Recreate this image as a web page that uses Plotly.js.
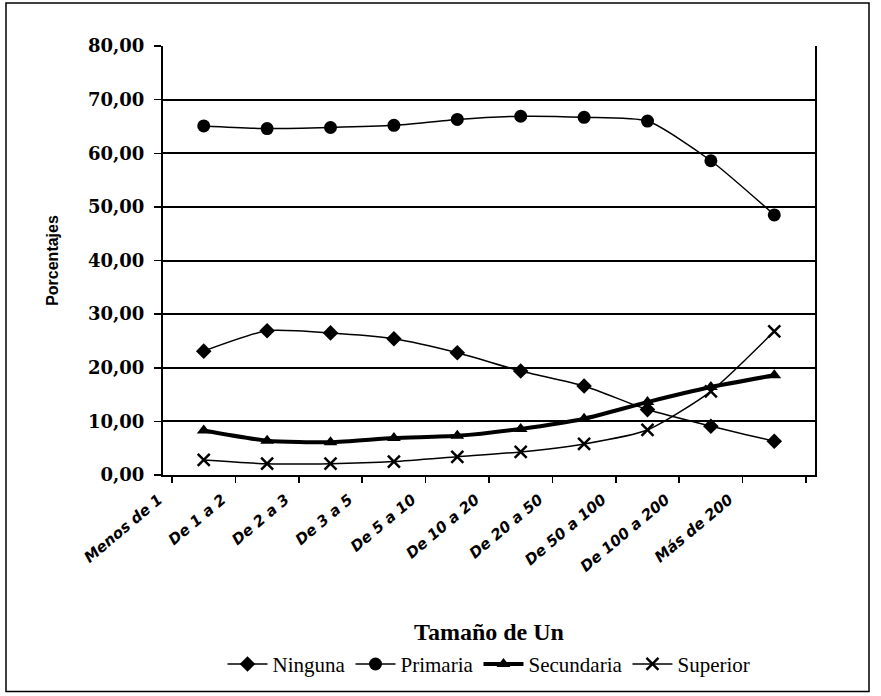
<!DOCTYPE html>
<html>
<head>
<meta charset="utf-8">
<script src="https://cdn.plot.ly/plotly-3.0.1.min.js"></script>
<style>html,body{margin:0;padding:0;background:#fff;}#chart{width:881px;height:696px;}</style>
</head>
<body>
<div id="chart"></div>
<script>
const categorias = ['Menos de 1','De 1 a 2','De 2 a 3','De 3 a 5','De 5 a 10','De 10 a 20','De 20 a 50','De 50 a 100','De 100 a 200','Más de 200'];
const ninguna    = [23.1, 26.9, 26.5, 25.4, 22.8, 19.4, 16.6, 12.2, 9.1, 6.3];
const primaria   = [65.1, 64.6, 64.8, 65.2, 66.3, 66.9, 66.7, 66.0, 58.6, 48.5];
const secundaria = [8.3, 6.4, 6.1, 6.9, 7.3, 8.6, 10.5, 13.6, 16.4, 18.6];
const superior   = [2.8, 2.1, 2.1, 2.5, 3.4, 4.3, 5.8, 8.4, 15.6, 26.8];
const yTicks = [0,10,20,30,40,50,60,70,80];
const yTickText = ['0,00','10,00','20,00','30,00','40,00','50,00','60,00','70,00','80,00'];

const traces = [
  {name:'Ninguna', x:categorias, y:ninguna, mode:'lines+markers',
   line:{color:'#000', width:1.5, shape:'spline', smoothing:0.6},
   marker:{symbol:'diamond', size:12, color:'#000'}},
  {name:'Primaria', x:categorias, y:primaria, mode:'lines+markers',
   line:{color:'#000', width:1.5, shape:'spline', smoothing:0.6},
   marker:{symbol:'circle', size:13, color:'#000'}},
  {name:'Secundaria', x:categorias, y:secundaria, mode:'lines+markers',
   line:{color:'#000', width:4, shape:'spline', smoothing:0.6},
   marker:{symbol:'triangle-up', size:12, color:'#000'}},
  {name:'Superior', x:categorias, y:superior, mode:'lines+markers',
   line:{color:'#000', width:1.5, shape:'spline', smoothing:0.6},
   marker:{symbol:'x-thin', size:12, line:{color:'#000', width:2.5}, color:'#000'}}
];

const layout = {
  width:881, height:696,
  margin:{l:163, r:66, t:46, b:220},
  paper_bgcolor:'#fff', plot_bgcolor:'#fff',
  showlegend:true,
  legend:{orientation:'h', x:0.5, xanchor:'center', y:-0.438, yanchor:'middle',
          font:{family:'Liberation Serif, serif', size:21, color:'#000'}, itemwidth:40, tracegroupgap:0},
  xaxis:{
    type:'category', showline:true, linecolor:'#000', linewidth:2,
    ticks:'outside', tickson:'boundaries', ticklen:6, tickcolor:'#000', tickwidth:1.5,
    tickangle:-40, ticklabelshift:-45, ticklabelstandoff:8,
    tickfont:{family:'DejaVu Sans, sans-serif', size:15, color:'#000', weight:'bold', style:'italic'},
    showgrid:false, zeroline:false,
    title:{text:'Tamaño de Un', standoff:49, font:{family:'Liberation Serif, serif', size:24, color:'#000', weight:'bold'}}
  },
  yaxis:{
    range:[0,80], tickvals:yTicks, ticktext:yTickText,
    showline:true, mirror:true, linecolor:'#000', linewidth:2,
    ticks:'outside', ticklen:7, tickcolor:'#000', tickwidth:1.5, ticklabelstandoff:6,
    tickfont:{family:'DejaVu Serif, serif', size:18, color:'#000', weight:'bold'},
    showgrid:true, gridcolor:'#000', gridwidth:2, zeroline:false,
    title:{text:'Porcentajes', standoff:25, font:{family:'Liberation Sans Narrow, Liberation Sans, sans-serif', size:16, color:'#000', weight:'bold'}}
  },
  shapes:[
    {type:'rect', xref:'paper', yref:'paper', x0:(6-163)/652, x1:(869-163)/652, y0:(476-693)/430, y1:(476-3)/430,
     line:{color:'#000', width:1.5}, fillcolor:'rgba(0,0,0,0)', layer:'below'}
  ]
};

Plotly.newPlot('chart', traces, layout, {displayModeBar:false, staticPlot:true});
</script>
</body>
</html>
